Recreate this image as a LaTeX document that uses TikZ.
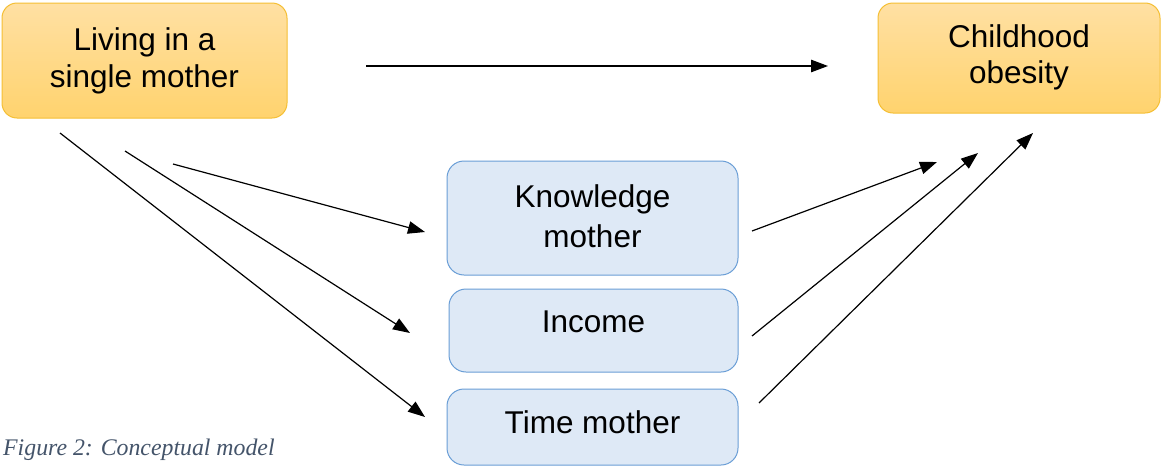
\documentclass[tikz,border=0pt]{standalone}
\usepackage{fontspec}
\setmainfont{Liberation Sans}
\newfontfamily\capfont{Liberation Serif}
\usetikzlibrary{arrows.meta}
\definecolor{ortop}{HTML}{FFE0A3}
\definecolor{orbot}{HTML}{FFD36E}
\definecolor{orline}{HTML}{F5BF34}
\definecolor{blfill}{HTML}{DEE9F6}
\definecolor{blline}{HTML}{6A9ED6}
\definecolor{capcol}{HTML}{44546A}
\begin{document}
\begin{tikzpicture}[x=1pt,y=-1pt,
  orbox/.style={draw=orline, line width=1pt, top color=ortop, bottom color=orbot, rounded corners=15pt, inner sep=0pt},
  blbox/.style={draw=blline, line width=1pt, fill=blfill, rounded corners=17pt, inner sep=0pt},
  lbl/.style={anchor=base, inner sep=0pt, font=\fontsize{31.5}{36}\selectfont},
  arr/.style={line width=1.2pt, -{Triangle[length=17pt,width=12.5pt]}}]
\useasboundingbox (0,0) rectangle (1163,466);
\fill[white] (0,0) rectangle (1163,466);
% boxes
\node[orbox, minimum width=285pt, minimum height=115pt] (mom) at (144.5,60.5) {};
\node[orbox, minimum width=282pt, minimum height=110pt] (obes) at (1019,58) {};
\node[blbox, minimum width=291pt, minimum height=114pt] (know) at (592.5,218) {};
\node[blbox, minimum width=289pt, minimum height=83pt] (inc) at (593.5,330.5) {};
\node[blbox, minimum width=291pt, minimum height=76pt] (time) at (592.5,427) {};
% labels
\node[lbl] (mom1) at (144.5,50) {Living in a};
\node[lbl] (mom2) at (144.5,87) {single mother};
\node[lbl] (obes1) at (1019,47) {Childhood};
\node[lbl] (obes2) at (1019,83) {obesity};
\node[lbl] (know1) at (592.5,207) {Knowledge};
\node[lbl] (know2) at (592.5,247) {mother};
\node[lbl] (inc1) at (593.5,332) {Income};
\node[lbl] (time1) at (592.5,433) {Time mother};
% connector end points
\coordinate (d0s) at (366,66);  \coordinate (d0e) at (828,66);
\coordinate (a1s) at (173,164); \coordinate (a1e) at (425,232);
\coordinate (a2s) at (125,151); \coordinate (a2e) at (410,333);
\coordinate (a3s) at (60,133);  \coordinate (a3e) at (425,417);
\coordinate (b1s) at (752,231); \coordinate (b1e) at (937,162);
\coordinate (b2s) at (752,336); \coordinate (b2e) at (978,153);
\coordinate (b3s) at (759,403); \coordinate (b3e) at (1033,133);
\draw[arr] (d0s) -- (d0e);
\draw[arr] (a1s) -- (a1e);
\draw[arr] (a2s) -- (a2e);
\draw[arr] (a3s) -- (a3e);
\draw[arr] (b1s) -- (b1e);
\draw[arr] (b2s) -- (b2e);
\draw[arr] (b3s) -- (b3e);
% caption
\node[anchor=base west, inner sep=0pt, text=capcol, font=\capfont\itshape\fontsize{23.8}{28}\selectfont] (cap) at (3,455) {Figure 2: Conceptual model};
\end{tikzpicture}
\end{document}
